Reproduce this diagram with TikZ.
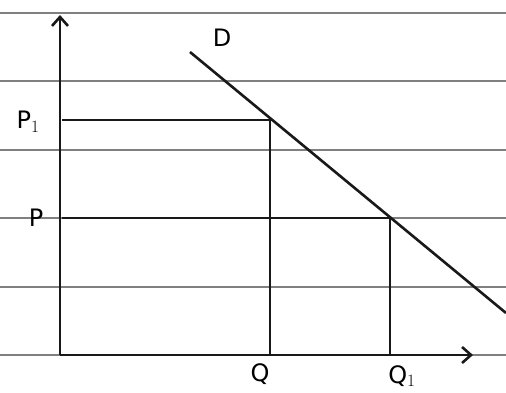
\documentclass[tikz,border=0pt]{standalone}
\usepackage{fontspec}
\setmainfont{DejaVu Sans}
\usetikzlibrary{arrows.meta}
\begin{document}
\begin{tikzpicture}[x=1pt,y=-1pt,
  rule/.style={black!50,line width=2.4pt},
  ink/.style={black!90,line width=2.6pt},
  lbl/.style={font=\fontsize{24}{26}\selectfont,inner sep=0pt}]
\useasboundingbox (0,0) rectangle (506,392);
\fill[white] (0,0) rectangle (506,392);
% ruled paper
\foreach \yy in {13,81,150,218,287,355} \draw[rule] (0,\yy) -- (506,\yy);
% axes
\coordinate (O) at (60,355);
\coordinate (ytop) at (60,15);
\coordinate (xend) at (473,355);
\draw[ink,-{Straight Barb[length=9pt,width=16pt]}] (O) -- (ytop);
\draw[ink,-{Straight Barb[length=9pt,width=16pt]}] (O) -- (xend);
% demand line
\coordinate (d1) at (190,52);
\coordinate (d2) at (506,313);
\draw[ink] (d1) -- (d2);
% points
\coordinate (A) at (270,120);
\coordinate (B) at (390,218);
\coordinate (Ay) at (62,120);
\coordinate (By) at (62,218);
\coordinate (Ax) at (270,355);
\coordinate (Bx) at (390,355);
\draw[ink] (Ay) -- (A) -- (Ax);
\draw[ink] (By) -- (B) -- (Bx);
% labels
\node[lbl] (lP1) at (28,122) {P$_1$};
\node[lbl] (lP) at (36,218) {P};
\node[lbl] (lD) at (222,38) {D};
\node[lbl] (lQ) at (260,374) {Q};
\node[lbl] (lQ1) at (402,376) {Q$_1$};
\end{tikzpicture}
\end{document}
